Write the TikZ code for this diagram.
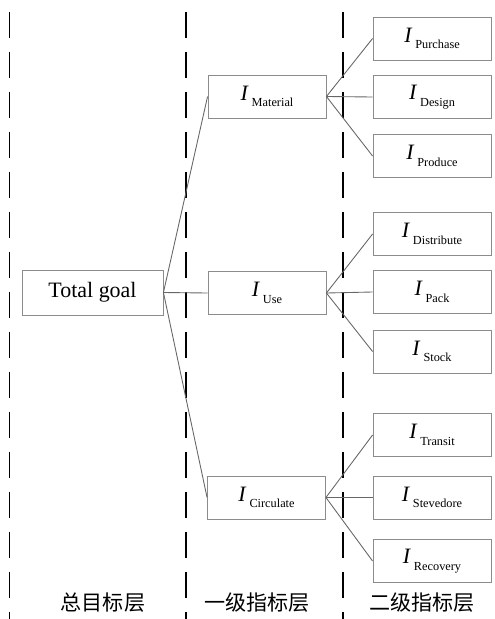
\documentclass[tikz,border=0pt]{standalone}
\usepackage{fontspec}
\setmainfont{Liberation Serif}
\newfontfamily\cjk{Noto Sans CJK SC}
\usepackage{tikz}

\newcommand{\indic}[1]{{\fontsize{12.5}{14}\selectfont\textit{I}}\,\raisebox{-0.8ex}{\fontsize{7}{8}\selectfont #1}}

\begin{document}
\begin{tikzpicture}[x=0.02cm,y=-0.02cm,
    box/.style={draw=gray!90, line width=0.5pt, minimum width=2.36cm,
      minimum height=0.86cm, inner sep=0pt},
    link/.style={draw=gray!80!black, line width=0.5pt},
    layer/.style={black, line width=1.1pt, dash pattern=on 0.52cm off 0.28cm},
    caption/.style={font=\cjk\fontsize{12}{14}\selectfont}]
    \useasboundingbox (0,0) rectangle (494,619) ;
    % dashed layer separators
    \foreach \xl in {9.5,186,343}
      \draw [layer] (\xl,12) -- (\xl,619) ;
    % goal
    \node [box, minimum width=2.82cm, minimum height=0.9cm,
      font=\fontsize{12.5}{14}\selectfont] (goal) at (92.5,292.5) {Total goal} ;
    % first level
    \node [box] (mat) at (267,96.5) {\indic{Material}} ;
    \node [box] (use) at (267,293) {\indic{Use}} ;
    \node [box] (circ) at (266.5,497.5) {\indic{Circulate}} ;
    % second level
    \node [box] (purch) at (432,38.5) {\indic{Purchase}} ;
    \node [box] (design) at (432,97) {\indic{Design}} ;
    \node [box] (prod) at (432,156) {\indic{Produce}} ;
    \node [box] (distr) at (432,234) {\indic{Distribute}} ;
    \node [box] (pack) at (432,292) {\indic{Pack}} ;
    \node [box] (stock) at (432,351.5) {\indic{Stock}} ;
    \node [box] (trans) at (432,435) {\indic{Transit}} ;
    \node [box] (steve) at (432,497.5) {\indic{Stevedore}} ;
    \node [box] (recov) at (432,561) {\indic{Recovery}} ;
    % connectors
    \foreach \m in {mat,use,circ}
      \draw [link] (goal.east) -- (\m.west) ;
    \foreach \s in {purch,design,prod}
      \draw [link] (mat.east) -- (\s.west) ;
    \foreach \s in {distr,pack,stock}
      \draw [link] (use.east) -- (\s.west) ;
    \foreach \s in {trans,steve,recov}
      \draw [link] (circ.east) -- (\s.west) ;
    % layer names
    \node [caption] (lay0) at (103,603) {总目标层} ;
    \node [caption] (lay1) at (257,603) {一级指标层} ;
    \node [caption] (lay2) at (422,603) {二级指标层} ;
\end{tikzpicture}
\end{document}
